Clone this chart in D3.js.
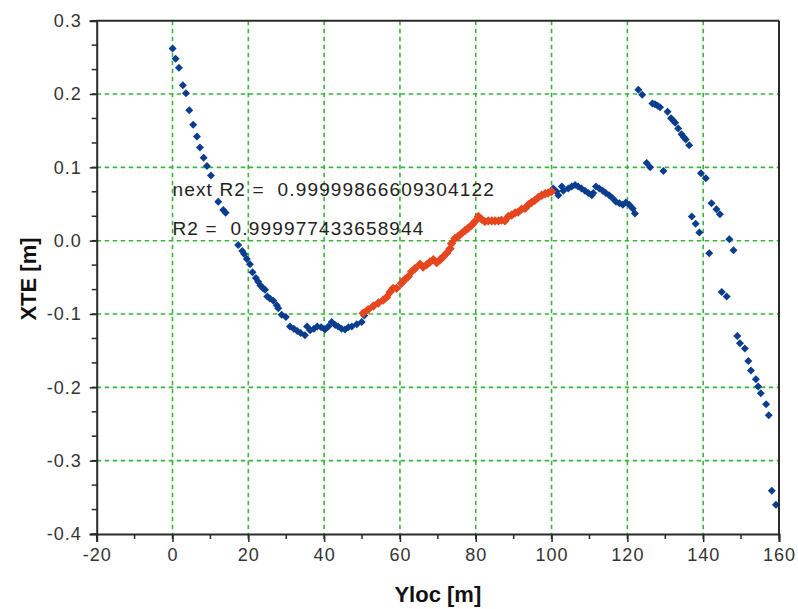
<!DOCTYPE html>
<html><head><meta charset="utf-8">
<script src="https://cdn.jsdelivr.net/npm/d3@7/dist/d3.min.js"></script>
<style>
html,body{margin:0;padding:0;background:#fff;}
svg{display:block;}
text{font-family:"Liberation Sans",Arial,sans-serif;}
</style></head>
<body><svg id="c" width="798" height="609"></svg>
<script>
// ---- data ----
const xTicks = [-20,0,20,40,60,80,100,120,140,160];
const yTicks = [-0.4,-0.3,-0.2,-0.1,0.0,0.1,0.2,0.3];
const yTickLabels = ["-0.4","-0.3","-0.2","-0.1","0.0","0.1","0.2","0.3"];
const xTitle = "Yloc [m]";
const yTitle = "XTE [m]";
const annNext = "next R2 =  0.99999866609304122";
const annR2 = "R2 =  0.999977433658944";

// blue series: Yloc
const blueX = [0.03,0.82,1.69,2.74,3.54,4.41,5.46,6.44,7.23,8.21,9.08,10.13,12.06,13.38,14.01,
 17.33,18.39,18.9,19.6,20.42,21.1,22.0,22.6,23.2,23.9,24.4,25.0,25.7,26.6,27.5,27.9,28.8,29.9,31.0,32.0,32.9,33.8,34.93,35.5,36.3,37.3,38.2,39.2,40.2,41.1,42.0,42.9,43.7,44.6,45.5,46.4,47.3,48.6,49.9,50.58,
 100.45,101.3,101.8,102.7,103.1,104.4,105.3,106.2,107.0,107.9,108.8,109.7,110.6,111.0,111.7,112.6,113.5,114.3,115.2,116.1,117.0,117.9,118.8,119.6,120.5,121.4,122.0,
 122.9,123.9,125.1,126.0,126.6,127.3,128.0,128.6,129.5,130.6,131.5,132.1,132.6,133.4,134.3,134.9,135.4,136.3,137.0,138.0,139.0,139.4,140.7,141.6,142.2,143.5,144.4,144.9,146.2,146.9,148.0,
 149.0,149.7,151.0,151.9,152.6,153.9,154.5,155.2,156.6,157.3,158.1,159.2];
// blue series: XTE
const blueY = [0.262,0.248,0.236,0.212,0.201,0.178,0.158,0.142,0.127,0.113,0.102,0.089,0.053,0.042,0.038,
 -0.006,-0.014,-0.018,-0.025,-0.032,-0.043,-0.051,-0.056,-0.061,-0.065,-0.067,-0.076,-0.079,-0.082,-0.088,-0.092,-0.101,-0.104,-0.117,-0.120,-0.123,-0.126,-0.129,-0.117,-0.122,-0.120,-0.117,-0.118,-0.121,-0.117,-0.111,-0.115,-0.117,-0.120,-0.121,-0.118,-0.117,-0.114,-0.111,-0.102,
 0.071,0.067,0.062,0.074,0.068,0.071,0.074,0.076,0.074,0.071,0.068,0.065,0.062,0.065,0.074,0.071,0.068,0.065,0.062,0.058,0.053,0.051,0.049,0.052,0.049,0.044,0.037,
 0.206,0.199,0.106,0.100,0.187,0.186,0.184,0.182,0.095,0.176,0.167,0.164,0.161,0.153,0.145,0.141,0.138,0.130,0.033,0.023,0.011,0.092,0.085,-0.017,0.051,0.043,0.036,-0.070,-0.076,0.002,-0.013,
 -0.130,-0.140,-0.147,-0.164,-0.177,-0.189,-0.199,-0.208,-0.223,-0.238,-0.341,-0.360];

// red series (fitted window)
const redX = [50.3,51.6,53.0,54.3,55.6,56.5,57.4,58.2,59.1,60.4,61.3,62.2,63.1,64.0,65.3,66.1,67.0,67.9,68.8,69.7,70.6,71.4,72.3,73.2,73.6,74.5,75.4,76.3,77.2,78.0,78.9,79.8,80.7,81.6,82.4,83.3,84.2,85.1,86.0,86.8,87.7,88.6,89.5,90.4,91.2,92.1,93.0,93.9,94.7,95.6,96.5,97.4,98.3,99.1,100.0];
const redY = [-0.099,-0.094,-0.089,-0.085,-0.081,-0.077,-0.070,-0.065,-0.065,-0.058,-0.053,-0.049,-0.042,-0.038,-0.032,-0.036,-0.033,-0.029,-0.026,-0.030,-0.026,-0.022,-0.017,-0.011,-0.004,0.003,0.006,0.010,0.014,0.017,0.021,0.026,0.033,0.029,0.026,0.027,0.027,0.027,0.027,0.028,0.027,0.033,0.035,0.038,0.039,0.043,0.044,0.049,0.052,0.055,0.059,0.062,0.064,0.065,0.067];

// ---- chart ----
const svg = d3.select("#c");
const L = 96.7, R = 779, T = 20.7, B = 534;
const x = d3.scaleLinear().domain([-20,160]).range([L,R]);
const y = d3.scaleLinear().domain([-0.4,0.3]).range([B,T]);
const grid = "#3cb43c", axisCol = "#2a2a2a";

// grid
const g = svg.append("g");
g.selectAll("line.vx").data(xTicks.slice(1,-1)).join("line")
 .attr("x1",d=>x(d)).attr("x2",d=>x(d)).attr("y1",T).attr("y2",B)
 .attr("stroke",grid).attr("stroke-width",1.6).attr("stroke-dasharray","4.5,3.5");
g.selectAll("line.hy").data(yTicks.slice(1,-1)).join("line")
 .attr("y1",d=>y(d)).attr("y2",d=>y(d)).attr("x1",L).attr("x2",R)
 .attr("stroke",grid).attr("stroke-width",1.6).attr("stroke-dasharray","4.5,3.5");

// markers
const symB = d3.symbol().type(d3.symbolSquare).size(32);
const symR = d3.symbol().type(d3.symbolSquare).size(44);
const blue = blueX.map((v,i)=>[v,blueY[i]]);
const red = redX.map((v,i)=>[v,redY[i]]);
svg.append("g").selectAll("path").data(blue).join("path")
 .attr("d",symB).attr("fill","#0b3d8e")
 .attr("transform",d=>`translate(${x(d[0])},${y(d[1])}) rotate(45)`);
svg.append("g").selectAll("path").data(red).join("path")
 .attr("d",symR).attr("fill","#e5461e")
 .attr("transform",d=>`translate(${x(d[0])},${y(d[1])}) rotate(45)`);

// axes
const xMinor = d3.range(-20,161,10);
const yMinor = d3.range(0,22).map(i=>-0.4+i/30);
const xAxis = d3.axisBottom(x).tickValues(xTicks).tickSizeOuter(0).tickSize(8).tickPadding(6).tickFormat(d=>String(d));
const yAxis = d3.axisLeft(y).tickValues(yTicks).tickSizeOuter(0).tickSize(7).tickPadding(8).tickFormat((d,i)=>yTickLabels[i]);
const gx = svg.append("g").attr("transform",`translate(0,${B})`).call(xAxis);
const gy = svg.append("g").attr("transform",`translate(${L},0)`).call(yAxis);
gx.append("g").selectAll("line").data(xMinor).join("line")
 .attr("x1",d=>x(d)).attr("x2",d=>x(d)).attr("y1",0).attr("y2",5).attr("stroke",axisCol).attr("stroke-width",1.5);
gy.append("g").selectAll("line").data(yMinor).join("line")
 .attr("y1",d=>y(d)).attr("y2",d=>y(d)).attr("x1",0).attr("x2",-5).attr("stroke",axisCol).attr("stroke-width",1.5);
[gx,gy].forEach(a=>{
  a.select(".domain").attr("stroke",axisCol).attr("stroke-width",2);
  a.selectAll(".tick line").attr("stroke",axisCol).attr("stroke-width",1.5);
  a.selectAll(".tick text").attr("fill","#333").style("font-size","18px").style("letter-spacing","1px")
   .style("font-family","'Liberation Sans',Arial,sans-serif");
});
// frame top/right
svg.append("line").attr("x1",L).attr("x2",R).attr("y1",T).attr("y2",T).attr("stroke",axisCol).attr("stroke-width",2);
svg.append("line").attr("x1",R).attr("x2",R).attr("y1",T).attr("y2",B).attr("stroke",axisCol).attr("stroke-width",2);

// annotations
svg.append("text").attr("x",x(0)).attr("y",196).text(annNext)
 .style("font-size","19px").style("white-space","pre").style("letter-spacing","1.15px").attr("fill","#222");
svg.append("text").attr("x",x(0)).attr("y",235).text(annR2)
 .style("font-size","19px").style("white-space","pre").style("letter-spacing","1.15px").attr("fill","#222");

// titles
svg.append("text").attr("x",(L+R)/2).attr("y",602).attr("text-anchor","middle")
 .style("font-size","22px").style("font-weight","bold").attr("fill","#111").text(xTitle);
svg.append("text").attr("transform",`translate(36,${279}) rotate(-90)`).attr("text-anchor","middle")
 .style("font-size","22px").style("font-weight","bold").attr("fill","#111").text(yTitle);
</script></body></html>
